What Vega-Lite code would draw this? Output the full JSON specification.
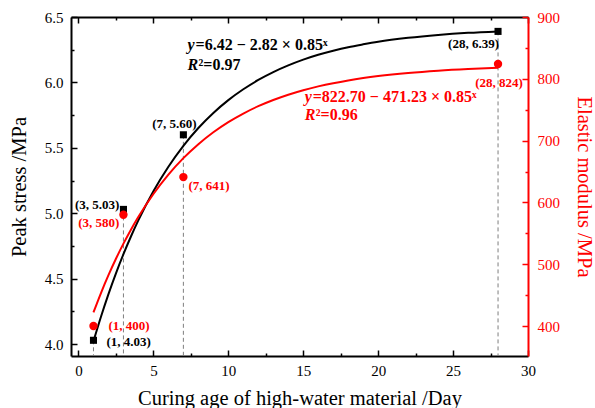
{
  "$schema": "https://vega.github.io/schema/vega-lite/v6.json",
  "width": 457,
  "height": 339,
  "autosize": {"type": "none"},
  "padding": {"left": 71, "top": 17, "right": 67, "bottom": 52},
  "config": {
    "view": {"stroke": null},
    "font": "Liberation Serif",
    "axis": {
      "grid": false,
      "labelFont": "Liberation Serif",
      "titleFont": "Liberation Serif",
      "labelFontSize": 15,
      "titleFontSize": 20.5,
      "titleFontWeight": "normal",
      "labelFlush": false,
      "labelOverlap": false,
      "domainWidth": 2,
      "tickWidth": 1.5
    }
  },
  "datasets": {
    "stress": [
      {"day": 1, "stress": 4.03, "label": "(1, 4.03)"},
      {"day": 3, "stress": 5.03, "label": "(3, 5.03)"},
      {"day": 7, "stress": 5.60, "label": "(7, 5.60)"},
      {"day": 28, "stress": 6.39, "label": "(28, 6.39)"}
    ],
    "modulus": [
      {"day": 1, "modulus": 400, "label": "(1, 400)"},
      {"day": 3, "modulus": 580, "label": "(3, 580)"},
      {"day": 7, "modulus": 641, "label": "(7, 641)"},
      {"day": 28, "modulus": 824, "label": "(28, 824)"}
    ],
    "fitStress": [
      {"day": 1, "stress": 4.023}, {"day": 1.5, "stress": 4.210}, {"day": 2, "stress": 4.383},
      {"day": 2.5, "stress": 4.542}, {"day": 3, "stress": 4.688}, {"day": 3.5, "stress": 4.823},
      {"day": 4, "stress": 4.948}, {"day": 5, "stress": 5.169}, {"day": 6, "stress": 5.356},
      {"day": 7, "stress": 5.516}, {"day": 8, "stress": 5.652}, {"day": 9, "stress": 5.767},
      {"day": 10, "stress": 5.865}, {"day": 11, "stress": 5.948}, {"day": 12, "stress": 6.019},
      {"day": 13, "stress": 6.079}, {"day": 14, "stress": 6.130}, {"day": 15, "stress": 6.174},
      {"day": 16, "stress": 6.211}, {"day": 17, "stress": 6.242}, {"day": 18, "stress": 6.269},
      {"day": 19, "stress": 6.291}, {"day": 20, "stress": 6.311}, {"day": 22, "stress": 6.341},
      {"day": 24, "stress": 6.363}, {"day": 26, "stress": 6.379}, {"day": 28, "stress": 6.390}
    ],
    "fitModulus": [
      {"day": 1, "modulus": 422.15}, {"day": 1.5, "modulus": 453.42}, {"day": 2, "modulus": 482.24},
      {"day": 2.5, "modulus": 508.81}, {"day": 3, "modulus": 533.31}, {"day": 3.5, "modulus": 555.89},
      {"day": 4, "modulus": 576.72}, {"day": 5, "modulus": 613.62}, {"day": 6, "modulus": 644.98},
      {"day": 7, "modulus": 671.63}, {"day": 8, "modulus": 694.29}, {"day": 9, "modulus": 713.56},
      {"day": 10, "modulus": 729.93}, {"day": 11, "modulus": 743.84}, {"day": 12, "modulus": 755.67},
      {"day": 13, "modulus": 765.73}, {"day": 14, "modulus": 774.27}, {"day": 15, "modulus": 781.54},
      {"day": 16, "modulus": 787.71}, {"day": 17, "modulus": 792.96}, {"day": 18, "modulus": 797.42},
      {"day": 19, "modulus": 801.21}, {"day": 20, "modulus": 804.44}, {"day": 22, "modulus": 809.50},
      {"day": 24, "modulus": 813.17}, {"day": 26, "modulus": 815.81}, {"day": 28, "modulus": 817.72}
    ],
    "eqStress": [
      {"day": 7.28, "stress": 6.286, "a": "y", "b": "=6.42 − 2.82 × 0.85ˣ"},
      {"day": 7.28, "stress": 6.133, "a": "R", "b": "²=0.97"}
    ],
    "eqModulus": [
      {"day": 15.1, "modulus": 770.6, "a": "y", "b": "=822.70 − 471.23 × 0.85ˣ"},
      {"day": 15.1, "modulus": 741.4, "a": "R", "b": "²=0.96"}
    ]
  },
  "layer": [
    {
      "encoding": {
        "x": {
          "field": "day", "type": "quantitative",
          "scale": {"domain": [-0.5, 30], "nice": false, "zero": false},
          "axis": {
            "orient": "bottom",
            "title": "Curing age of high-water material /Day",
            "values": [0, 2.5, 5, 7.5, 10, 12.5, 15, 17.5, 20, 22.5, 25, 27.5, 30],
            "labelExpr": "datum.value % 5 == 0 ? format(datum.value, 'd') : ''",
            "tickSize": {"condition": {"test": "datum.value % 5 != 0", "value": -3}, "value": -6},
            "labelPadding": 13,
            "titlePadding": 7,
            "domainColor": "black", "tickColor": "black", "labelColor": "black", "titleColor": "black"
          }
        },
        "y": {
          "field": "stress", "type": "quantitative",
          "scale": {"domain": [3.91, 6.5], "nice": false, "zero": false},
          "axis": {
            "orient": "left",
            "title": "Peak stress /MPa",
            "values": [4, 4.25, 4.5, 4.75, 5, 5.25, 5.5, 5.75, 6, 6.25, 6.5],
            "labelExpr": "(datum.value * 4) % 2 == 0 ? format(datum.value, '.1f') : ''",
            "tickSize": {"condition": {"test": "(datum.value * 4) % 2 != 0", "value": -3}, "value": -6},
            "labelPadding": 14,
            "titlePadding": 15,
            "domainColor": "black", "tickColor": "black", "labelColor": "black", "titleColor": "black"
          }
        }
      },
      "layer": [
        {
          "data": {"name": "stress"},
          "mark": {"type": "rule", "color": "#7f7f7f", "strokeDash": [4, 3], "strokeWidth": 1},
          "encoding": {"y2": {"datum": 3.91}}
        },
        {
          "data": {"name": "fitStress"},
          "mark": {"type": "line", "color": "black", "strokeWidth": 2, "interpolate": "monotone"}
        },
        {
          "data": {"name": "stress"},
          "mark": {"type": "point", "shape": "square", "filled": true, "color": "black", "size": 50, "opacity": 1}
        },
        {
          "data": {"name": "stress"},
          "transform": [{"filter": "datum.day == 1"}],
          "mark": {"type": "text", "align": "left", "baseline": "middle", "dx": 13, "dy": 2, "fontSize": 13, "fontWeight": "bold", "color": "black"},
          "encoding": {"text": {"field": "label"}}
        },
        {
          "data": {"name": "stress"},
          "transform": [{"filter": "datum.day == 3"}],
          "mark": {"type": "text", "align": "right", "baseline": "middle", "dx": -4, "dy": -4, "fontSize": 13, "fontWeight": "bold", "color": "black"},
          "encoding": {"text": {"field": "label"}}
        },
        {
          "data": {"name": "stress"},
          "transform": [{"filter": "datum.day == 7"}],
          "mark": {"type": "text", "align": "center", "baseline": "middle", "dx": -9, "dy": -11, "fontSize": 13, "fontWeight": "bold", "color": "black"},
          "encoding": {"text": {"field": "label"}}
        },
        {
          "data": {"name": "stress"},
          "transform": [{"filter": "datum.day == 28"}],
          "mark": {"type": "text", "align": "right", "baseline": "middle", "dx": 1, "dy": 13, "fontSize": 13, "fontWeight": "bold", "color": "black"},
          "encoding": {"text": {"field": "label"}}
        },
        {
          "data": {"name": "eqStress"},
          "mark": {"type": "text", "align": "left", "baseline": "middle", "fontSize": 16, "fontWeight": "bold", "fontStyle": "italic", "color": "black"},
          "encoding": {"text": {"field": "a"}}
        },
        {
          "data": {"name": "eqStress"},
          "transform": [{"filter": "datum.a == 'y'"}],
          "mark": {"type": "text", "align": "left", "baseline": "middle", "dx": 8, "fontSize": 16, "fontWeight": "bold", "color": "black"},
          "encoding": {"text": {"field": "b"}}
        },
        {
          "data": {"name": "eqStress"},
          "transform": [{"filter": "datum.a == 'R'"}],
          "mark": {"type": "text", "align": "left", "baseline": "middle", "dx": 11, "fontSize": 16, "fontWeight": "bold", "color": "black"},
          "encoding": {"text": {"field": "b"}}
        }
      ]
    },
    {
      "encoding": {
        "x": {
          "field": "day", "type": "quantitative",
          "scale": {"domain": [-0.5, 30], "nice": false, "zero": false},
          "axis": {
            "orient": "top",
            "title": null,
            "labels": false,
            "values": [0, 2.5, 5, 7.5, 10, 12.5, 15, 17.5, 20, 22.5, 25, 27.5, 30],
            "tickSize": {"condition": {"test": "datum.value % 5 != 0", "value": -3}, "value": -6},
            "domainColor": "black", "tickColor": "black"
          }
        },
        "y": {
          "field": "modulus", "type": "quantitative",
          "scale": {"domain": [351.5, 900], "nice": false, "zero": false},
          "axis": {
            "orient": "right",
            "title": "Elastic modulus /MPa",
            "values": [400, 450, 500, 550, 600, 650, 700, 750, 800, 850, 900],
            "labelExpr": "datum.value % 100 == 0 ? format(datum.value, 'd') : ''",
            "tickSize": {"condition": {"test": "datum.value % 100 != 0", "value": -3}, "value": -6},
            "labelPadding": 15,
            "titlePadding": 14,
            "domainColor": "#ff0000", "tickColor": "#ff0000", "labelColor": "#ff0000", "titleColor": "#ff0000"
          }
        }
      },
      "layer": [
        {
          "data": {"name": "fitModulus"},
          "mark": {"type": "line", "color": "#ff0000", "strokeWidth": 2, "interpolate": "monotone"}
        },
        {
          "data": {"name": "modulus"},
          "mark": {"type": "point", "shape": "circle", "filled": true, "color": "#ff0000", "size": 70, "opacity": 1}
        },
        {
          "data": {"name": "modulus"},
          "transform": [{"filter": "datum.day == 1"}],
          "mark": {"type": "text", "align": "left", "baseline": "middle", "dx": 15, "dy": 0, "fontSize": 13, "fontWeight": "bold", "color": "#ff0000"},
          "encoding": {"text": {"field": "label"}}
        },
        {
          "data": {"name": "modulus"},
          "transform": [{"filter": "datum.day == 3"}],
          "mark": {"type": "text", "align": "right", "baseline": "middle", "dx": -4, "dy": 8, "fontSize": 13, "fontWeight": "bold", "color": "#ff0000"},
          "encoding": {"text": {"field": "label"}}
        },
        {
          "data": {"name": "modulus"},
          "transform": [{"filter": "datum.day == 7"}],
          "mark": {"type": "text", "align": "left", "baseline": "middle", "dx": 5, "dy": 9, "fontSize": 13, "fontWeight": "bold", "color": "#ff0000"},
          "encoding": {"text": {"field": "label"}}
        },
        {
          "data": {"name": "modulus"},
          "transform": [{"filter": "datum.day == 28"}],
          "mark": {"type": "text", "align": "center", "baseline": "middle", "dx": 1, "dy": 19, "fontSize": 13, "fontWeight": "bold", "color": "#ff0000"},
          "encoding": {"text": {"field": "label"}}
        },
        {
          "data": {"name": "eqModulus"},
          "mark": {"type": "text", "align": "left", "baseline": "middle", "fontSize": 16, "fontWeight": "bold", "fontStyle": "italic", "color": "#ff0000"},
          "encoding": {"text": {"field": "a"}}
        },
        {
          "data": {"name": "eqModulus"},
          "transform": [{"filter": "datum.a == 'y'"}],
          "mark": {"type": "text", "align": "left", "baseline": "middle", "dx": 8, "fontSize": 16, "fontWeight": "bold", "color": "#ff0000"},
          "encoding": {"text": {"field": "b"}}
        },
        {
          "data": {"name": "eqModulus"},
          "transform": [{"filter": "datum.a == 'R'"}],
          "mark": {"type": "text", "align": "left", "baseline": "middle", "dx": 11, "fontSize": 16, "fontWeight": "bold", "color": "#ff0000"},
          "encoding": {"text": {"field": "b"}}
        }
      ]
    }
  ],
  "resolve": {"scale": {"x": "independent", "y": "independent"}}
}
